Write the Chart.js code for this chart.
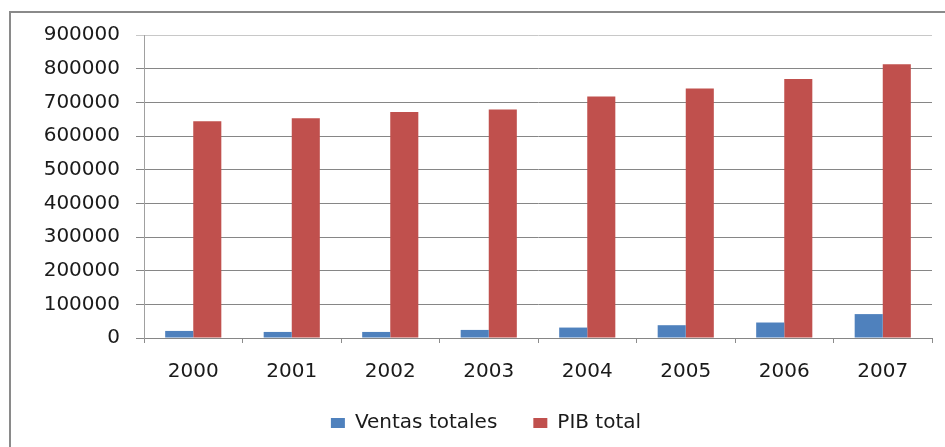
<!DOCTYPE html>
<html>
<head>
<meta charset="utf-8">
<script src="https://cdn.jsdelivr.net/npm/chart.js@4/dist/chart.umd.min.js"></script>
<style>
  html, body { margin: 0; padding: 0; background: #fff; }
  #wrap { position: relative; width: 945px; height: 447px; overflow: hidden; }
  #frame { position: absolute; left: 9px; top: 11px; width: 1000px; height: 500px;
           border-top: 2px solid #8a8a8a; border-left: 2px solid #8a8a8a; }
  canvas { position: absolute; left: 0; top: 0; }
</style>
</head>
<body>
<div id="wrap">
  <div id="frame"></div>
  <canvas id="chart" width="945" height="447"></canvas>
</div>
<script>
const years = ["2000", "2001", "2002", "2003", "2004", "2005", "2006", "2007"];
const ventasTotales = [21000, 18000, 18000, 24000, 31000, 38000, 46000, 71000];
const pibTotal = [644000, 653000, 671000, 679000, 717000, 741000, 769000, 813000];
const yMax = 900000;
const yStep = 100000;

const font = { family: "DejaVu Sans", size: 20 };

window.addEventListener("DOMContentLoaded", () => {
  const ctx = document.getElementById("chart").getContext("2d");
  new Chart(ctx, {
    type: "bar",
    data: {
      labels: years,
      datasets: [
        { label: "Ventas totales", data: ventasTotales, backgroundColor: "#4f81bd" },
        { label: "PIB total", data: pibTotal, backgroundColor: "#c0504d" }
      ]
    },
    options: {
      responsive: false,
      animation: false,
      events: [],
      datasets: { bar: { categoryPercentage: 0.57, barPercentage: 1 } },
      layout: { padding: { left: 40, right: 13, top: 35, bottom: 4 } },
      plugins: {
        tooltip: { enabled: false },
        legend: {
          position: "bottom",
          labels: { font: font, color: "#1a1a1a", boxWidth: 14, boxHeight: 10, padding: 36 }
        }
      },
      scales: {
        x: {
          offset: true,
          grid: { offset: true, drawOnChartArea: false, drawTicks: true, tickLength: 5, color: "#8c8c8c" },
          border: { color: "#868686" },
          ticks: { font: font, color: "#1a1a1a", padding: 17 },
          afterFit: s => { s.height = 39; }
        },
        y: {
          min: 0,
          max: yMax,
          ticks: { stepSize: yStep, font: font, color: "#1a1a1a", padding: 16, callback: v => String(v) },
          grid: {
            tickLength: 8,
            color: c => (c.tick && c.tick.value === yMax ? "#c8c8c8" : "#868686")
          },
          border: { color: "#a0a0a0" },
          afterFit: s => { s.width = 104; }
        }
      }
    }
  });
});
</script>
</body>
</html>
